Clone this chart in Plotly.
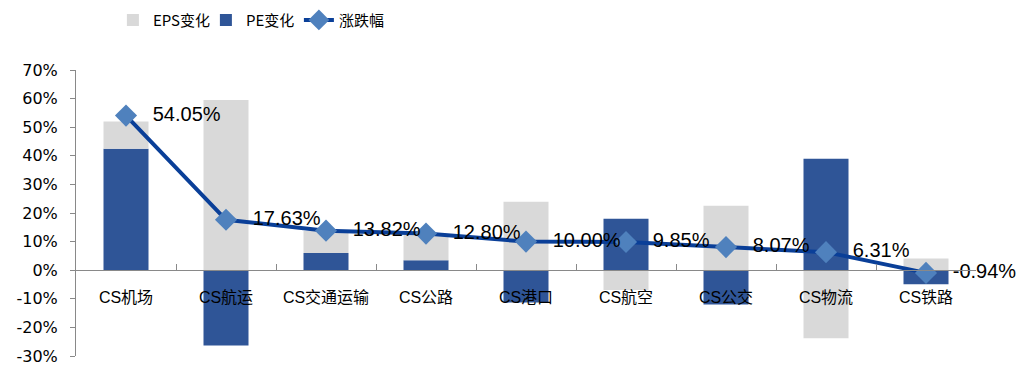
import plotly.graph_objects as go

categories = ["CS机场", "CS航运", "CS交通运输", "CS公路", "CS港口", "CS航空", "CS公交", "CS物流", "CS铁路"]
eps_change = [9.5, 59.5, 7.7, 9.0, 23.9, -6.9, 22.5, -23.8, 4.1]
pe_change = [42.5, -26.3, 6.0, 3.5, -11.3, 18.0, -12.0, 39.0, -4.9]
price_change = [54.05, 17.63, 13.82, 12.80, 10.00, 9.85, 8.07, 6.31, -0.94]
y_ticks = [-30, -20, -10, 0, 10, 20, 30, 40, 50, 60, 70]

fig = go.Figure()
fig.add_trace(go.Bar(
    x=categories, y=pe_change, name="PE变化", legendrank=2,
    marker=dict(color="#2f5597", line=dict(width=0)), width=0.45,
))
fig.add_trace(go.Bar(
    x=categories, y=eps_change, name="EPS变化", legendrank=1,
    marker=dict(color="#d9d9d9", line=dict(width=0)), width=0.45,
))
fig.add_trace(go.Scatter(
    x=categories, y=price_change, name="涨跌幅", legendrank=3,
    mode="lines+markers+text",
    line=dict(color="#0a3f98", width=4),
    marker=dict(symbol="diamond", size=17, color="#4f81bd", line=dict(width=0)),
    text=["\u00a0\u00a0\u2009%.2f%%" % v for v in price_change],
    textposition="middle right",
    textfont=dict(family="Liberation Sans, Arial", size=20, color="#000000"),
    cliponaxis=False,
))

fig.update_layout(
    width=1021, height=367,
    margin=dict(l=76, r=45, t=70, b=11, autoexpand=False),
    barmode="relative",
    bargap=0.55,
    plot_bgcolor="white", paper_bgcolor="white",
    showlegend=True,
    legend=dict(
        orientation="h", x=0.041, xanchor="left",
        yref="container", y=0.945, yanchor="middle",
        font=dict(family="Noto Sans CJK SC", size=15, color="#000000"),
        traceorder="normal", itemwidth=30,
        entrywidth=48, entrywidthmode="pixels",
    ),
    xaxis=dict(
        type="category", range=[-0.5, 8.5], automargin=False,
        anchor="free", position=0.3,
        showline=True, linecolor="#898989", linewidth=1,
        ticks="inside", tickson="boundaries", ticklen=6, tickcolor="#898989",
        showgrid=False, zeroline=False,
        tickfont=dict(family="Liberation Sans, Noto Sans CJK SC", size=16, color="#000000"),
        ticklabelstandoff=13,
    ),
    yaxis=dict(
        range=[-30, 70], tickvals=y_ticks, ticktext=["%d%%" % v for v in y_ticks],
        automargin=False,
        showline=True, linecolor="#898989", linewidth=1,
        ticks="outside", ticklen=5, tickcolor="#898989",
        showgrid=False, zeroline=False,
        tickfont=dict(family="DejaVu Sans, Verdana", size=16, color="#000000"),
        ticklabelstandoff=9,
    ),
)

fig.write_html("out.html")
